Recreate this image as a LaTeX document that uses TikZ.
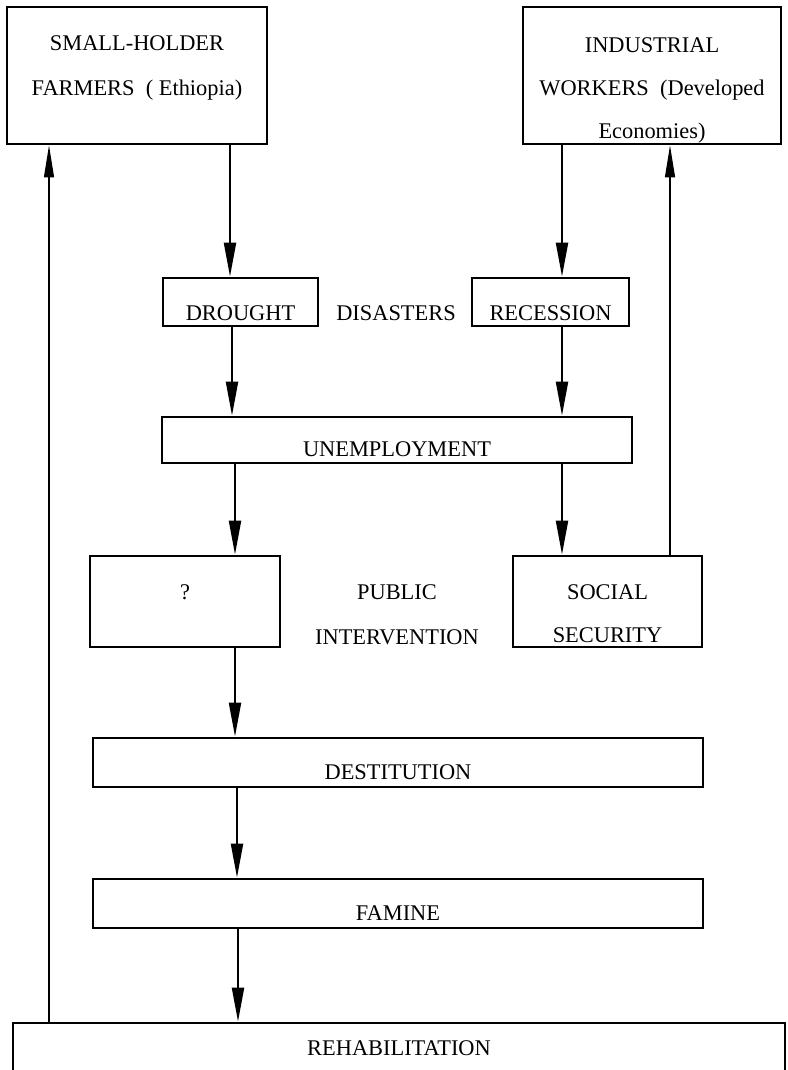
\documentclass[tikz,border=0pt]{standalone}
\usepackage{fontspec}
\setmainfont{Liberation Serif}
\usetikzlibrary{arrows.meta}
\begin{document}
\begin{tikzpicture}[x=0.5pt,y=-0.5pt,
  box/.style={draw, line width=1.4pt, inner sep=0pt},
  txt/.style={font=\fontsize{11.2pt}{22.5pt}\selectfont, align=center, inner sep=0pt},
  txtb/.style={font=\fontsize{11.2pt}{21.5pt}\selectfont, align=center, inner sep=0pt},
  arr/.style={line width=1.1pt, -{Triangle[length=17pt,width=6pt]}},
  arrthin/.style={line width=0.6pt, -{Triangle[length=16pt,width=5pt]}}
]
\clip (0,0) rectangle (787,1070);

% boxes
\node[box, minimum width=130pt, minimum height=68.5pt,
  label={[txt,yshift=4pt]center:{SMALL-HOLDER\\FARMERS \ ( Ethiopia)}}] (sh) at (137,75.5) {};
\node[box, minimum width=129pt, minimum height=68.5pt,
  label={[txtb,yshift=-7.25pt]center:{INDUSTRIAL\\WORKERS \ (Developed\\Economies)}}] (iw) at (652,75.5) {};
\node[box, minimum width=77.5pt, minimum height=24pt,
  label={[txt,yshift=-5.5pt]center:DROUGHT}] (dr) at (240.5,302) {};
\node[box, minimum width=78.5pt, minimum height=24pt,
  label={[txt,yshift=-5.5pt]center:RECESSION}] (re) at (550.5,302) {};
\node[txt] (dis) at (396,313) {DISASTERS};
\node[box, minimum width=235pt, minimum height=23pt,
  label={[txt,yshift=-4.5pt]center:UNEMPLOYMENT}] (un) at (397,440) {};
\node[box, minimum width=95pt, minimum height=45.5pt,
  label={[txt,yshift=4.75pt]center:?}] (q) at (185,601.5) {};
\node[box, minimum width=94.5pt, minimum height=45.5pt,
  label={[txtb,yshift=-6pt]center:{SOCIAL\\SECURITY}}] (ss) at (607.5,601.5) {};
\node[txt] (pi) at (397,614.5) {PUBLIC\\INTERVENTION};
\node[box, minimum width=305pt, minimum height=24.5pt,
  label={[txt,yshift=-5pt]center:DESTITUTION}] (de) at (398,762.5) {};
\node[box, minimum width=305pt, minimum height=24.5pt,
  label={[txt,yshift=-4.75pt]center:FAMINE}] (fa) at (398,903.5) {};
\node[box, minimum width=386pt, minimum height=40pt,
  label={[txt,yshift=7.5pt]center:REHABILITATION}] (rh) at (399,1063) {};

% connector columns
\coordinate (cA) at (230,0);
\coordinate (cB) at (562,0);
\coordinate (cC) at (232,0);
\coordinate (cD) at (235,0);
\coordinate (cE) at (237,0);
\coordinate (cF) at (238,0);
\coordinate (cL) at (49,0);
\coordinate (cR) at (670,0);

\draw[arr] (sh.south -| cA) -- (dr.north -| cA);
\draw[arr] (iw.south -| cB) -- (re.north -| cB);
\draw[arr] (dr.south -| cC) -- (un.north -| cC);
\draw[arr] (re.south -| cB) -- (un.north -| cB);
\draw[arr] (un.south -| cD) -- (q.north -| cD);
\draw[arr] (un.south -| cB) -- (ss.north -| cB);
\draw[arr] (q.south -| cD) -- (de.north -| cD);
\draw[arr] (de.south -| cE) -- (fa.north -| cE);
\draw[arr] (fa.south -| cF) -- (rh.north -| cF);
\draw[arrthin] (ss.north -| cR) -- (iw.south -| cR);
\draw[arrthin] (rh.north -| cL) -- (sh.south -| cL);
\end{tikzpicture}
\end{document}
